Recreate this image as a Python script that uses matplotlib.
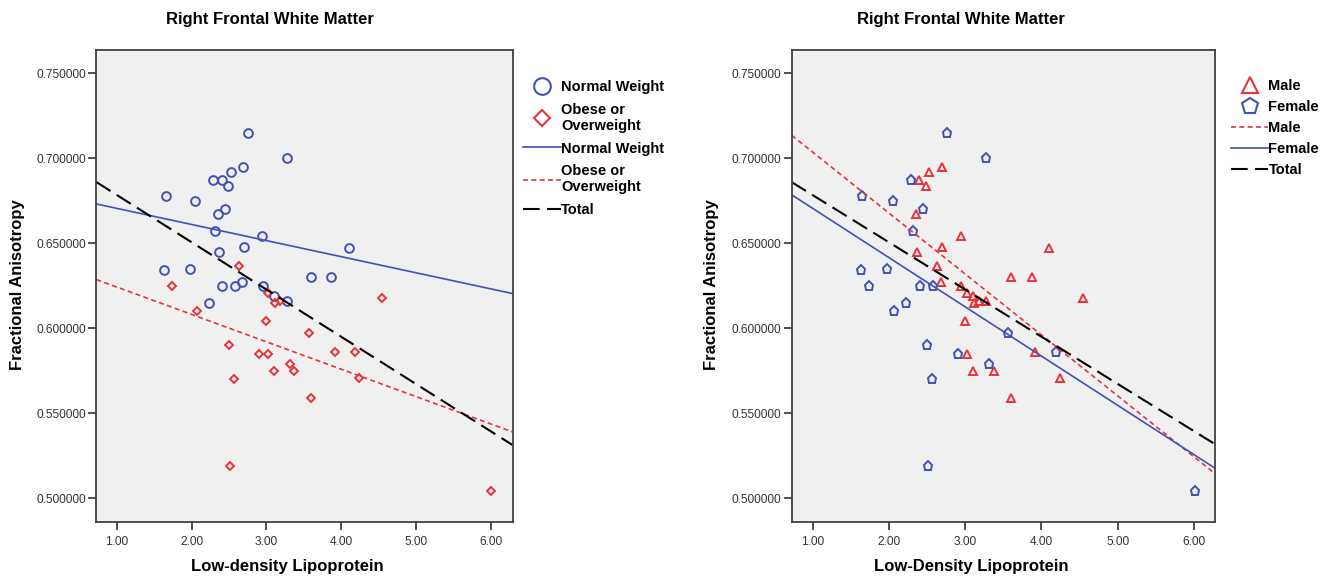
import numpy as np
import matplotlib
matplotlib.use("Agg")
from matplotlib import pyplot as plt
from matplotlib.lines import Line2D
from matplotlib.ticker import FormatStrFormatter

plt.rcParams['font.family'] = ['Liberation Sans', 'DejaVu Sans']

# LDL, FA, weight group (N = normal, O = obese/overweight), sex (M/F)
ldl = [2.76, 3.27, 2.69, 2.52, 2.29, 2.40, 2.49, 1.65, 2.05, 2.45,
       2.35, 2.31, 2.94, 4.10, 2.70, 2.37, 1.63, 1.98, 3.60, 3.87,
       2.41, 2.58, 2.68, 2.95, 2.23, 3.27, 3.10,
       2.63, 1.74, 3.025, 3.18, 3.12, 4.54, 2.067, 2.995, 3.566, 2.503,
       2.90, 3.02, 3.914, 4.186, 3.316, 3.374, 3.10, 2.562, 4.244, 3.597,
       2.517, 6.007]
fa = [0.715, 0.700, 0.695, 0.692, 0.687, 0.687, 0.6835, 0.678, 0.675, 0.670,
      0.667, 0.657, 0.654, 0.647, 0.648, 0.645, 0.634, 0.635, 0.630, 0.630,
      0.625, 0.625, 0.627, 0.625, 0.615, 0.616, 0.619,
      0.6365, 0.625, 0.621, 0.616, 0.615, 0.618, 0.610, 0.604, 0.597, 0.590,
      0.585, 0.585, 0.586, 0.586, 0.579, 0.575, 0.575, 0.570, 0.571, 0.559,
      0.519, 0.504]
weight = ['N'] * 27 + ['O'] * 22
sex = ['F', 'F', 'M', 'M', 'F', 'M', 'M', 'F', 'F', 'F',
       'M', 'F', 'M', 'M', 'M', 'M', 'F', 'F', 'M', 'M',
       'F', 'F', 'M', 'M', 'F', 'M', 'M',
       'M', 'F', 'M', 'M', 'M', 'M', 'F', 'M', 'F', 'F',
       'F', 'M', 'M', 'F', 'F', 'M', 'M', 'F', 'M', 'M',
       'F', 'F']

yticks = [0.50, 0.55, 0.60, 0.65, 0.70, 0.75]
xticks = [1, 2, 3, 4, 5, 6]

x = np.array(ldl)
y = np.array(fa)
weight = np.array(weight)
sex = np.array(sex)

blue = '#4252b3'
red = '#e8333b'
bg = '#f0f0f0'
spine = '#404040'

fig = plt.figure(figsize=(13.32, 5.8), dpi=100)
ax1 = fig.add_axes([0.0724, 0.1005, 0.3125, 0.8133])
ax2 = fig.add_axes([0.5944, 0.1005, 0.3178, 0.8133])


def fit_line(ax, xs, ys, **kw):
    b, a = np.polyfit(xs, ys, 1)
    x0, x1 = ax.get_xlim()
    xx = np.array([x0, x1])
    ax.plot(xx, a + b * xx, **kw)


def style(ax, xlim):
    ax.set_facecolor(bg)
    ax.set_xlim(*xlim)
    ax.set_ylim(0.4862, 0.7637)
    ax.set_xticks(xticks)
    ax.set_yticks(yticks)
    ax.xaxis.set_major_formatter(FormatStrFormatter('%.2f'))
    ax.yaxis.set_major_formatter(FormatStrFormatter('%.6f'))
    ax.tick_params(length=5.5, width=1.3, color=spine, labelsize=8.6,
                   labelcolor='#333333', pad=2)
    ax.tick_params(axis='x', pad=4.5)
    for s in ax.spines.values():
        s.set_color(spine)
        s.set_linewidth(1.3)


style(ax1, (0.726, 6.295))
style(ax2, (0.727, 6.275))

solid = dict(color=blue, lw=1.2, linestyle='-')
dotted = dict(color=red, lw=1.2, linestyle=(0, (3, 2)))
dashed = dict(color='black', lw=1.5, linestyle=(0, (8, 3.5)))

# left: weight groups
n = weight == 'N'
o = weight == 'O'
ax1.plot(x[n], y[n], 'o', ms=6.3, mfc='none', mec=blue, mew=1.4, ls='none')
ax1.plot(x[o], y[o], 'D', ms=4.3, mfc='none', mec=red, mew=1.4, ls='none')
fit_line(ax1, x[n], y[n], **solid)
fit_line(ax1, x[o], y[o], **dotted)
fit_line(ax1, x, y, **dashed)

# right: sex
m = sex == 'M'
f = sex == 'F'
ax2.plot(x[m], y[m], '^', ms=6, mfc='none', mec=red, mew=1.4, ls='none')
ax2.plot(x[f], y[f], 'p', ms=6.5, mfc='none', mec=blue, mew=1.4, ls='none')
fit_line(ax2, x[m], y[m], **dotted)
fit_line(ax2, x[f], y[f], **solid)
fit_line(ax2, x, y, **dashed)

# titles / labels
fig.text(0.2027, 0.966, 'Right Frontal White Matter', ha='center', va='center',
         fontsize=12, fontweight='bold')
fig.text(0.7215, 0.966, 'Right Frontal White Matter', ha='center', va='center',
         fontsize=12, fontweight='bold')
fig.text(0.2155, 0.024, 'Low-density Lipoprotein', ha='center', va='center',
         fontsize=12, fontweight='bold')
fig.text(0.7290, 0.024, 'Low-Density Lipoprotein', ha='center', va='center',
         fontsize=12, fontweight='bold')
fig.text(0.0135, 0.51, 'Fractional Anisotropy', ha='center', va='center',
         rotation=90, fontsize=12, fontweight='bold')
fig.text(0.5345, 0.51, 'Fractional Anisotropy', ha='center', va='center',
         rotation=90, fontsize=12, fontweight='bold')

# legends
h1 = [Line2D([], [], marker='o', ms=12, mfc='none', mec=blue, mew=1.5, ls='none'),
      Line2D([], [], marker='D', ms=8.5, mfc='none', mec=red, mew=1.5, ls='none'),
      Line2D([], [], **solid),
      Line2D([], [], **dotted),
      Line2D([], [], **dashed)]
l1 = ['Normal Weight', 'Obese or\nOverweight', 'Normal Weight',
      'Obese or\nOverweight', 'Total']
fig.legend(h1, l1, loc='upper left', bbox_to_anchor=(0.383, 0.885),
           frameon=False, prop=dict(weight='bold', size=10.5),
           handlelength=2.6, handletextpad=0.0, labelspacing=0.6)

h2 = [Line2D([], [], marker='^', ms=11, mfc='none', mec=red, mew=1.5, ls='none'),
      Line2D([], [], marker='p', ms=12, mfc='none', mec=blue, mew=1.5, ls='none'),
      Line2D([], [], **dotted),
      Line2D([], [], **solid),
      Line2D([], [], **dashed)]
l2 = ['Male', 'Female', 'Male', 'Female', 'Total']
fig.legend(h2, l2, loc='upper left', bbox_to_anchor=(0.914, 0.887),
           frameon=False, prop=dict(weight='bold', size=10.5),
           handlelength=2.6, handletextpad=0.0, labelspacing=0.48)

fig.savefig('out.png', dpi=100, facecolor='white')
